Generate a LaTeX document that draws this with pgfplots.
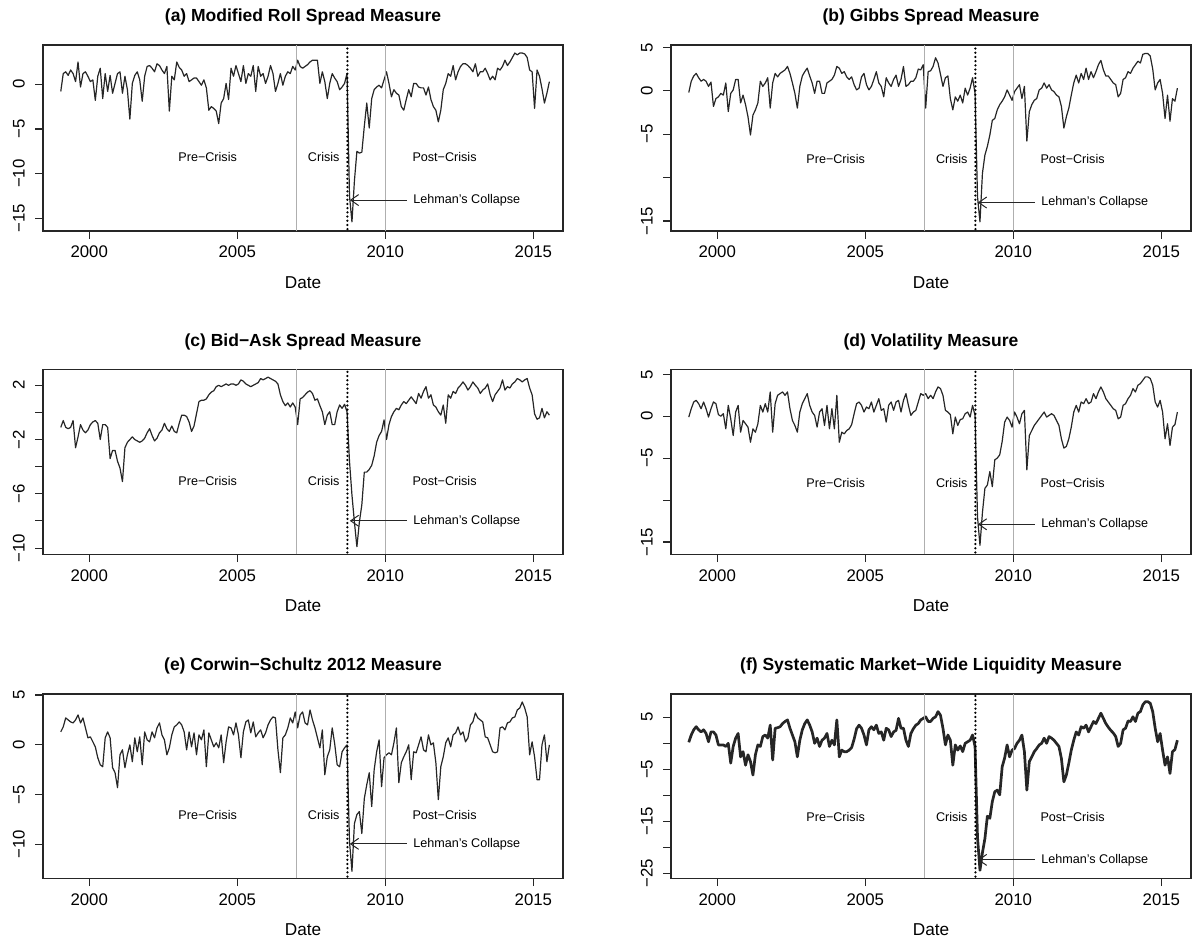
\documentclass[border=0pt]{standalone}
\usepackage{fontspec}
\setmainfont{Liberation Sans}
\usepackage{pgfplots}
\pgfplotsset{compat=1.18}
\usepackage{pgfplotstable}
\usetikzlibrary{arrows.meta}

\definecolor{crisisgray}{RGB}{175,175,175}

% ---------- data: monthly values, Jan 1999 - Jul 2015 (one row per year) ----------
\pgfplotstableread[row sep=\\]{v\\
-0.8\\ 1.2\\ 1.4\\ 1.0\\ 1.6\\ 1.2\\ 0.3\\ 2.5\\ -0.3\\ 1.2\\ 1.4\\ 0.9\\
0.3\\ 0.5\\ -1.8\\ 0.9\\ 1.8\\ -1.6\\ 1.2\\ -0.8\\ 1.0\\ -1.0\\ 0.1\\ 1.2\\
1.4\\ -1.0\\ 0.9\\ -0.6\\ -3.9\\ 0.1\\ 1.0\\ 1.4\\ 0.5\\ -1.9\\ 0.9\\ 2.0\\
2.1\\ 1.8\\ 1.4\\ 2.3\\ 2.1\\ 1.6\\ 1.2\\ 2.0\\ -3.0\\ 0.9\\ 0.5\\ 2.5\\
1.9\\ 1.6\\ 0.9\\ 1.2\\ 0.3\\ 0.5\\ 0.7\\ 0.7\\ 0.3\\ -0.1\\ 0.5\\ -0.4\\
-2.9\\ -2.5\\ -2.7\\ -3.0\\ -4.4\\ -2.1\\ -1.6\\ 0.1\\ -1.7\\ 1.8\\ 0.9\\ 2.1\\
1.2\\ 0.3\\ 2.1\\ 0.1\\ 1.2\\ 0.9\\ 2.1\\ -0.8\\ 2.0\\ 0.9\\ 1.2\\ 0.1\\
0.9\\ 2.1\\ 1.2\\ -0.8\\ 0.1\\ 1.2\\ -0.1\\ 0.9\\ 1.4\\ 1.2\\ 2.0\\ 1.6\\
2.7\\ 2.0\\ 1.8\\ 2.0\\ 2.2\\ 2.5\\ 2.7\\ 2.7\\ 2.7\\ 0.1\\ 1.4\\ 0.3\\
-1.6\\ 0.1\\ 1.2\\ 0.7\\ 0.3\\ -0.6\\ -0.3\\ 0.1\\ 1.2\\ -12.5\\ -15.4\\ -10.8\\
-7.5\\ -7.7\\ -7.6\\ -4.7\\ -2.1\\ -4.9\\ -1.6\\ -0.6\\ -0.3\\ -0.1\\ -0.4\\ 0.5\\
1.4\\ 0.1\\ -1.4\\ -0.6\\ -1.0\\ -1.2\\ -2.5\\ -2.9\\ -1.7\\ -0.6\\ -1.4\\ 0.1\\
0.1\\ -0.3\\ -0.4\\ -0.4\\ -1.2\\ -0.3\\ -1.7\\ -2.5\\ -2.9\\ -4.2\\ -2.9\\ -0.6\\
0.1\\ 1.2\\ 0.9\\ 2.1\\ 0.5\\ 1.4\\ 2.0\\ 2.3\\ 2.3\\ 2.1\\ 1.8\\ 1.4\\
2.3\\ 0.9\\ 1.4\\ 1.4\\ 1.8\\ 1.2\\ 0.5\\ 0.9\\ 0.5\\ 1.8\\ 1.6\\ 2.0\\
2.7\\ 2.1\\ 2.5\\ 3.0\\ 3.5\\ 3.3\\ 3.5\\ 3.5\\ 3.4\\ 3.0\\ 1.6\\ 1.4\\
-2.7\\ 1.6\\ 0.9\\ -0.5\\ -2.1\\ -1.0\\ 0.3\\
}\tA

\pgfplotstableread[row sep=\\]{v\\
-0.2\\ 1.1\\ 1.7\\ 2.0\\ 1.5\\ 1.1\\ 1.3\\ 1.1\\ 0.5\\ 1.0\\ -1.8\\ -0.9\\
-0.7\\ -0.3\\ -0.5\\ 0.9\\ -2.4\\ -0.3\\ 0.1\\ 1.3\\ 1.3\\ -1.4\\ -0.5\\ -1.6\\
-3.0\\ -5.1\\ -2.8\\ -2.2\\ -1.4\\ 1.1\\ 0.5\\ 0.9\\ 1.5\\ -2.0\\ 0.9\\ 2.0\\
1.6\\ 2.0\\ 2.2\\ 2.4\\ 2.8\\ 2.0\\ 0.9\\ -0.3\\ -2.0\\ 0.5\\ 1.7\\ 2.2\\
2.6\\ 1.7\\ 0.9\\ -0.3\\ 1.1\\ 1.1\\ -0.3\\ -0.3\\ 0.9\\ 1.1\\ 1.3\\ 1.8\\
2.8\\ 2.6\\ 2.0\\ 2.2\\ 1.6\\ 1.3\\ 1.6\\ 0.7\\ 0.1\\ 0.3\\ 1.6\\ 2.0\\
0.7\\ 0.1\\ 0.5\\ 1.3\\ 2.2\\ 0.9\\ 0.5\\ -0.7\\ 1.5\\ 0.9\\ 0.5\\ 1.3\\
1.8\\ 0.5\\ 1.3\\ 2.8\\ 0.5\\ 0.7\\ 1.1\\ 1.1\\ 1.5\\ 2.5\\ 2.4\\ 3.0\\
-2.0\\ 2.2\\ 2.3\\ 2.8\\ 3.8\\ 3.2\\ 1.9\\ 0.5\\ 1.5\\ 1.7\\ -0.9\\ -2.2\\
-0.7\\ -1.2\\ -0.5\\ -1.4\\ 0.3\\ -0.5\\ 0.3\\ 1.5\\ -0.3\\ -12.2\\ -15.1\\ -9.5\\
-7.4\\ -6.4\\ -5.1\\ -3.4\\ -3.2\\ -2.2\\ -1.6\\ -1.2\\ -0.7\\ 0.1\\ -0.5\\ -1.1\\
-0.1\\ 0.3\\ 0.7\\ -0.9\\ 0.5\\ -5.8\\ -2.4\\ -1.6\\ -1.1\\ -0.9\\ 0.1\\ 0.3\\
0.9\\ 0.3\\ 0.7\\ 0.1\\ -0.1\\ -0.5\\ -0.7\\ -1.8\\ -4.3\\ -3.0\\ -2.0\\ -0.5\\
0.9\\ 1.8\\ 0.9\\ 2.0\\ 1.3\\ 2.6\\ 1.3\\ 2.2\\ 1.5\\ 2.2\\ 3.0\\ 3.5\\
2.4\\ 1.7\\ 1.7\\ 1.3\\ 0.9\\ 0.7\\ -0.7\\ -0.3\\ 1.3\\ 1.5\\ 2.2\\ 2.0\\
2.6\\ 3.0\\ 3.4\\ 3.2\\ 4.2\\ 4.3\\ 4.3\\ 4.0\\ 2.5\\ 0.1\\ 0.9\\ 1.3\\
-0.3\\ -3.2\\ -0.5\\ -3.5\\ -0.9\\ -1.2\\ 0.3\\
}\tB

\pgfplotstableread[row sep=\\]{v\\
-1.1\\ -0.6\\ -1.1\\ -1.2\\ -1.1\\ -0.6\\ -2.6\\ -1.8\\ -0.9\\ -1.3\\ -1.5\\ -1.3\\
-0.9\\ -0.7\\ -0.6\\ -0.8\\ -2.0\\ -0.9\\ -0.9\\ -1.1\\ -3.4\\ -2.8\\ -2.8\\ -3.6\\
-4.1\\ -5.1\\ -2.6\\ -2.2\\ -2.0\\ -1.8\\ -2.0\\ -2.1\\ -2.2\\ -2.1\\ -1.9\\ -1.5\\
-1.2\\ -1.7\\ -2.1\\ -1.9\\ -1.5\\ -1.3\\ -0.8\\ -1.2\\ -1.4\\ -1.0\\ -1.4\\ -1.5\\
-0.8\\ -0.2\\ -0.2\\ -0.3\\ -0.7\\ -1.4\\ -1.0\\ -0.1\\ 0.8\\ 0.9\\ 0.9\\ 1.0\\
1.3\\ 1.5\\ 1.6\\ 1.9\\ 2.0\\ 1.9\\ 2.0\\ 2.1\\ 2.0\\ 2.1\\ 2.1\\ 2.0\\
2.1\\ 2.4\\ 2.3\\ 2.1\\ 2.0\\ 1.9\\ 2.0\\ 2.1\\ 2.2\\ 2.5\\ 2.4\\ 2.5\\
2.6\\ 2.5\\ 2.4\\ 2.3\\ 2.1\\ 1.3\\ 0.8\\ 0.5\\ 0.7\\ 0.4\\ 0.7\\ 0.4\\
-0.9\\ 1.0\\ 1.1\\ 1.3\\ 1.5\\ 1.6\\ 1.4\\ 0.9\\ 1.0\\ 0.5\\ 0.05\\ -0.9\\
-0.2\\ 0.05\\ -0.9\\ -0.9\\ 0.05\\ 0.55\\ 0.3\\ 0.6\\ 0.05\\ -3.6\\ -6.1\\ -8.1\\
-9.9\\ -8.1\\ -6.8\\ -4.4\\ -4.4\\ -4.2\\ -3.9\\ -3.2\\ -2.2\\ -1.7\\ -1.4\\ -0.55\\
-2.0\\ -0.9\\ -0.3\\ 0.05\\ 0.3\\ 0.2\\ 0.55\\ 0.8\\ 0.65\\ 0.9\\ 1.15\\ 0.9\\
0.65\\ 1.4\\ 1.05\\ 1.55\\ 1.9\\ 1.05\\ 1.3\\ 0.55\\ 0.4\\ 0.05\\ -0.2\\ 0.55\\
-0.8\\ 1.3\\ 1.05\\ 1.55\\ 1.4\\ 1.8\\ 2.0\\ 2.25\\ 2.0\\ 1.65\\ 1.9\\ 2.25\\
2.0\\ 1.8\\ 1.4\\ 1.65\\ 1.8\\ 2.1\\ 1.3\\ 0.8\\ 1.3\\ 1.55\\ 1.8\\ 2.4\\
1.65\\ 1.9\\ 1.8\\ 2.1\\ 2.25\\ 2.5\\ 2.4\\ 2.25\\ 2.4\\ 2.5\\ 1.8\\ 1.3\\
-0.1\\ -0.5\\ -0.4\\ 0.3\\ -0.4\\ 0.05\\ -0.2\\
}\tC

\pgfplotstableread[row sep=\\]{v\\
-0.1\\ 0.9\\ 1.7\\ 1.9\\ 1.5\\ 0.9\\ 1.7\\ 0.9\\ -0.1\\ 0.9\\ 1.7\\ 1.5\\
0.2\\ 0.0\\ 0.3\\ -1.5\\ 1.3\\ -0.3\\ -2.3\\ 0.5\\ 1.3\\ -1.9\\ -0.5\\ -0.9\\
-1.3\\ -3.1\\ -1.5\\ -1.9\\ -0.9\\ 1.3\\ 0.5\\ 1.5\\ 0.5\\ 2.9\\ -1.9\\ 1.5\\
2.5\\ 2.7\\ 2.9\\ 2.5\\ 2.9\\ 0.9\\ -0.5\\ -1.1\\ -1.9\\ 0.5\\ 1.5\\ 2.1\\
2.7\\ 1.3\\ 0.5\\ 0.1\\ -1.3\\ 0.5\\ 0.9\\ -1.1\\ 1.3\\ -1.5\\ 0.9\\ -1.5\\
2.5\\ -3.1\\ -1.9\\ -2.1\\ -1.7\\ -1.5\\ -1.0\\ 0.3\\ 1.5\\ 1.7\\ 1.3\\ 0.5\\
1.1\\ 0.9\\ 1.7\\ 0.5\\ 1.3\\ 2.1\\ 0.7\\ 0.9\\ -0.7\\ 1.3\\ 1.7\\ 0.7\\
1.7\\ 1.9\\ 0.5\\ 1.9\\ 2.7\\ 1.3\\ 0.1\\ 0.5\\ 0.7\\ 1.7\\ 2.7\\ 2.5\\
2.7\\ 2.1\\ 2.5\\ 2.1\\ 2.9\\ 3.5\\ 3.3\\ 2.5\\ 0.7\\ 0.5\\ 0.2\\ -2.1\\
-0.1\\ -1.1\\ -0.4\\ -0.3\\ 0.3\\ 0.5\\ -0.1\\ 1.3\\ 0.1\\ -12.0\\ -15.4\\ -11.5\\
-8.6\\ -8.2\\ -6.6\\ -8.4\\ -5.2\\ -5.0\\ -4.6\\ -3.0\\ -0.7\\ -0.1\\ -0.5\\ -1.3\\
0.5\\ -0.1\\ -0.9\\ 0.3\\ 0.7\\ -6.4\\ -2.3\\ -1.7\\ -1.1\\ -0.7\\ -0.3\\ 0.1\\
0.5\\ -0.1\\ 0.1\\ 0.3\\ 0.1\\ -0.5\\ -1.1\\ -2.7\\ -3.8\\ -3.6\\ -2.7\\ -1.3\\
0.5\\ 1.3\\ 0.5\\ 1.7\\ 1.5\\ 2.1\\ 1.5\\ 1.7\\ 2.7\\ 2.1\\ 2.9\\ 3.5\\
2.9\\ 2.1\\ 1.7\\ 1.3\\ 0.9\\ 0.7\\ -0.3\\ -0.1\\ 1.3\\ 1.5\\ 2.1\\ 2.5\\
3.3\\ 2.9\\ 3.7\\ 3.9\\ 4.3\\ 4.7\\ 4.7\\ 4.5\\ 3.7\\ 1.7\\ 1.1\\ 1.9\\
0.5\\ -2.7\\ -0.9\\ -3.5\\ -1.3\\ -1.0\\ 0.5\\
}\tD

\pgfplotstableread[row sep=\\]{v\\
1.3\\ 1.8\\ 2.7\\ 2.5\\ 2.3\\ 2.2\\ 2.5\\ 3.0\\ 2.2\\ 2.7\\ 1.7\\ 0.7\\
0.8\\ 0.3\\ -0.2\\ -1.3\\ -2.0\\ -2.2\\ 0.7\\ 1.3\\ 0.7\\ -2.3\\ -2.8\\ -4.3\\
-1.0\\ -0.5\\ -2.3\\ -1.0\\ 0.0\\ -1.7\\ 0.7\\ -0.7\\ 0.8\\ -2.0\\ 1.3\\ 0.5\\
0.3\\ 1.3\\ 0.7\\ 1.7\\ 2.2\\ 1.0\\ 0.5\\ -1.0\\ -0.3\\ 1.0\\ 1.8\\ 2.0\\
2.3\\ 2.0\\ 1.3\\ -0.5\\ 1.3\\ -0.2\\ 1.2\\ -1.0\\ 1.0\\ 0.5\\ 1.5\\ -2.2\\
1.2\\ 0.5\\ -0.2\\ 0.2\\ -0.3\\ 1.0\\ -1.8\\ 0.3\\ 1.8\\ 1.7\\ 1.0\\ 2.2\\
1.0\\ -1.3\\ 1.3\\ 2.3\\ 2.5\\ 1.2\\ 2.3\\ 0.8\\ 1.2\\ 1.5\\ 0.7\\ 1.2\\
2.0\\ 2.5\\ 2.8\\ 2.7\\ -0.5\\ -2.8\\ 0.7\\ 1.0\\ 1.7\\ 2.7\\ 2.2\\ 3.3\\
1.7\\ 3.0\\ 3.3\\ 2.2\\ 2.0\\ 3.5\\ 2.5\\ 1.7\\ 0.7\\ -0.3\\ 1.5\\ -3.0\\
-1.2\\ -0.5\\ 1.7\\ 0.1\\ -2.0\\ -2.2\\ -0.7\\ -0.3\\ 0.0\\ -9.7\\ -12.7\\ -7.9\\
-7.0\\ -6.7\\ -8.9\\ -5.4\\ -4.0\\ -2.8\\ -6.2\\ -2.5\\ -0.7\\ 0.5\\ -4.2\\ -1.3\\
-1.0\\ -0.8\\ -1.0\\ 0.2\\ 1.7\\ -3.8\\ -1.8\\ -1.2\\ -0.7\\ 0.0\\ -3.5\\ -0.7\\
-0.8\\ 0.0\\ 0.8\\ -0.5\\ -0.7\\ 1.0\\ 0.0\\ 0.2\\ -1.8\\ -5.5\\ -2.2\\ -1.2\\
0.2\\ 0.7\\ -0.2\\ 1.0\\ 1.2\\ 1.8\\ 1.0\\ 1.3\\ 0.3\\ 0.7\\ 2.0\\ 2.3\\
3.2\\ 2.7\\ 2.5\\ 2.3\\ 0.8\\ 0.7\\ 0.0\\ -0.7\\ -0.8\\ -0.7\\ 1.7\\ 1.8\\
1.5\\ 2.2\\ 2.3\\ 2.7\\ 2.8\\ 3.5\\ 3.7\\ 4.3\\ 3.7\\ 2.8\\ -1.0\\ 0.3\\
-1.2\\ -3.5\\ -3.5\\ 0.0\\ 1.0\\ -1.7\\ 0.0\\
}\tE

\pgfplotstableread[row sep=\\]{v\\
0.2\\ 1.6\\ 2.6\\ 3.2\\ 2.6\\ 2.2\\ 2.6\\ 1.9\\ 0.3\\ 2.2\\ 2.2\\ 1.6\\
-0.3\\ -0.3\\ -0.3\\ -0.6\\ 0.0\\ -3.8\\ -0.6\\ 1.0\\ 1.9\\ -2.6\\ -1.6\\ -4.2\\
-2.2\\ -3.5\\ -6.1\\ -2.2\\ -0.3\\ -0.6\\ 1.3\\ 1.6\\ 1.0\\ 3.5\\ -3.2\\ 2.9\\
3.0\\ 3.2\\ 3.8\\ 4.2\\ 4.5\\ 2.9\\ 1.6\\ 0.3\\ -2.6\\ 0.6\\ 2.6\\ 3.8\\
4.5\\ 3.5\\ 2.2\\ 0.0\\ 1.0\\ -0.6\\ 0.6\\ 1.0\\ 1.9\\ -0.6\\ 0.6\\ -0.3\\
4.5\\ -2.6\\ -1.3\\ -1.6\\ -1.6\\ -1.3\\ -0.8\\ 0.8\\ 2.8\\ 3.5\\ 2.9\\ 1.6\\
-0.3\\ 2.6\\ 3.2\\ 2.6\\ 3.5\\ 1.9\\ 2.2\\ 0.6\\ 2.9\\ 2.6\\ 1.3\\ 2.2\\
2.5\\ 4.8\\ 2.9\\ 2.9\\ 0.6\\ -0.6\\ 1.9\\ 2.8\\ 3.5\\ 3.8\\ 4.5\\ 4.8\\
5.1\\ 4.2\\ 4.2\\ 4.8\\ 5.1\\ 6.1\\ 5.4\\ 2.9\\ -0.3\\ 1.6\\ 0.6\\ -4.2\\
-0.3\\ -1.3\\ -0.5\\ -1.6\\ 0.0\\ 0.3\\ 0.6\\ 1.6\\ -0.6\\ -18.0\\ -24.4\\ -21.0\\
-18.3\\ -14.0\\ -14.4\\ -11.2\\ -9.3\\ -9.0\\ -9.9\\ -4.5\\ -2.8\\ -0.3\\ -2.6\\ -1.3\\
-1.0\\ 0.0\\ 0.6\\ 1.6\\ -1.6\\ -9.0\\ -3.5\\ -2.6\\ -1.6\\ -1.0\\ -0.3\\ 0.0\\
1.0\\ 0.0\\ 1.3\\ 1.0\\ 0.6\\ 0.0\\ -0.6\\ -2.9\\ -7.4\\ -6.1\\ -3.8\\ -1.3\\
0.6\\ 2.2\\ 1.6\\ 3.2\\ 2.9\\ 3.5\\ 2.2\\ 3.2\\ 4.2\\ 3.8\\ 4.8\\ 5.8\\
4.8\\ 3.8\\ 3.1\\ 2.5\\ 2.0\\ 1.3\\ -0.6\\ 0.0\\ 2.6\\ 2.9\\ 4.3\\ 4.2\\
5.1\\ 4.2\\ 5.8\\ 6.1\\ 7.4\\ 8.0\\ 8.0\\ 7.7\\ 6.1\\ 2.9\\ 0.3\\ 1.9\\
-1.3\\ -4.2\\ -2.6\\ -5.8\\ -1.6\\ -1.2\\ 0.6\\
}\tF

\pgfplotsset{
  panel/.style={
    scale only axis, width=260pt,
    xmin=1998.44, xmax=2016.0,
    axis line style={black!85, line width=0.55pt},
    xtick={2000,2005,2010,2015},
    xticklabels={2000,2005,2010,2015},
    xtick pos=left, ytick pos=left,
    tick align=outside,
    major tick length=3.85pt,
    tick style={black!85, line width=0.55pt},
    tick label style={font=\fontsize{8.4}{10}\selectfont, inner sep=0pt},
    xticklabel style={anchor=base, yshift=-9.6pt},
    yticklabel style={anchor=base, xshift=-5.3pt, rotate=90},
    xlabel={Date},
    xlabel style={font=\fontsize{8.6}{10}\selectfont, at={(axis description cs:0.5,0)}, anchor=base, yshift=-28.65pt, inner sep=0pt},
    every axis title/.style={font=\bfseries\fontsize{8.75}{10}\selectfont, at={(axis description cs:0.5,1)}, anchor=base, yshift=11.65pt, inner sep=0pt},
  },
  series/.style={black!85, line width=0.6pt, line join=round, mark=none},
}

\newcommand{\deco}[2]{%
  \draw[crisisgray, line width=0.55pt] ({axis cs:2007,0}|-{rel axis cs:0,0}) -- ({axis cs:2007,0}|-{rel axis cs:0,1});
  \draw[crisisgray, line width=0.55pt] ({axis cs:2010,0}|-{rel axis cs:0,0}) -- ({axis cs:2010,0}|-{rel axis cs:0,1});
  \draw[black, line width=1.25pt, line cap=round, dash pattern=on 0pt off 2.1pt] ({axis cs:2008.72,0}|-{rel axis cs:0,0.01}) -- ({axis cs:2008.72,0}|-{rel axis cs:0,0.99});
  \node[font=\fontsize{6.3}{7.5}\selectfont, inner sep=0pt] at (axis cs:2004,#1) {Pre−Crisis};
  \node[font=\fontsize{6.3}{7.5}\selectfont, inner sep=0pt] at (axis cs:2007.92,#1) {Crisis};
  \node[font=\fontsize{6.3}{7.5}\selectfont, inner sep=0pt] at (axis cs:2012,#1) {Post−Crisis};
  \draw[black!85, line width=0.5pt, -{Straight Barb[length=4pt, width=5.5pt]}] (axis cs:2010.72,#2) -- (axis cs:2008.8,#2);
  \node[font=\fontsize{6.3}{7.5}\selectfont, inner sep=0pt, anchor=west] at (axis cs:2010.93,#2) {Lehman's Collapse};
}

\begin{document}
\begin{tikzpicture}
\useasboundingbox (0,0) rectangle (601pt,-471pt);

% (a)
\begin{axis}[panel, at={(21.5pt,-22.5pt)}, anchor=north west, height=93pt,
  ymin=-16.42, ymax=4.40, ytick={0,-5,-10,-15}, yticklabels={0,−5,−10,−15},
  title={(a) Modified Roll Spread Measure}]
\addplot[series] table[x expr=1999.04+\coordindex/12, y=v] {\tA};
\deco{-8.1}{-12.96}
\end{axis}

% (b)
\begin{axis}[panel, at={(335.5pt,-22.5pt)}, anchor=north west, height=93pt,
  ymin=-16.15, ymax=5.27, ytick={5,0,-5,-10,-15}, yticklabels={5,0,−5,,−15},
  title={(b) Gibbs Spread Measure}]
\addplot[series] table[x expr=1999.04+\coordindex/12, y=v] {\tB};
\deco{-7.87}{-12.87}
\end{axis}

% (c)
\begin{axis}[panel, at={(21.5pt,-184.65pt)}, anchor=north west, height=92.5pt,
  ymin=-10.46, ymax=3.18, ytick={2,0,-2,-4,-6,-8,-10}, yticklabels={2,,−2,,−6,,−10},
  title={(c) Bid−Ask Spread Measure}]
\addplot[series] table[x expr=1999.04+\coordindex/12, y=v] {\tC};
\deco{-5.04}{-7.99}
\end{axis}

% (d)
\begin{axis}[panel, at={(335.5pt,-184.65pt)}, anchor=north west, height=92.5pt,
  ymin=-16.47, ymax=5.6, ytick={5,0,-5,-10,-15}, yticklabels={5,0,−5,,−15},
  title={(d) Volatility Measure}]
\addplot[series] table[x expr=1999.04+\coordindex/12, y=v] {\tD};
\deco{-7.92}{-12.89}
\end{axis}

% (e)
\begin{axis}[panel, at={(21.5pt,-347pt)}, anchor=north west, height=92.2pt,
  ymin=-13.41, ymax=5.1, ytick={5,0,-5,-10}, yticklabels={5,0,−5,−10},
  title={(e) Corwin−Schultz 2012 Measure}]
\addplot[series] table[x expr=1999.04+\coordindex/12, y=v] {\tE};
\deco{-7.03}{-9.94}
\end{axis}

% (f)
\begin{axis}[panel, at={(335.5pt,-347pt)}, anchor=north west, height=92.2pt,
  ymin=-25.96, ymax=9.48, ytick={5,0,-5,-10,-15,-20,-25}, yticklabels={5,,−5,,−15,,−25},
  title={(f) Systematic Market−Wide Liquidity Measure}]
\addplot[series, line width=1.35pt] table[x expr=1999.04+\coordindex/12, y=v] {\tF};
\deco{-14.1}{-22.4}
\end{axis}

\end{tikzpicture}
\end{document}
